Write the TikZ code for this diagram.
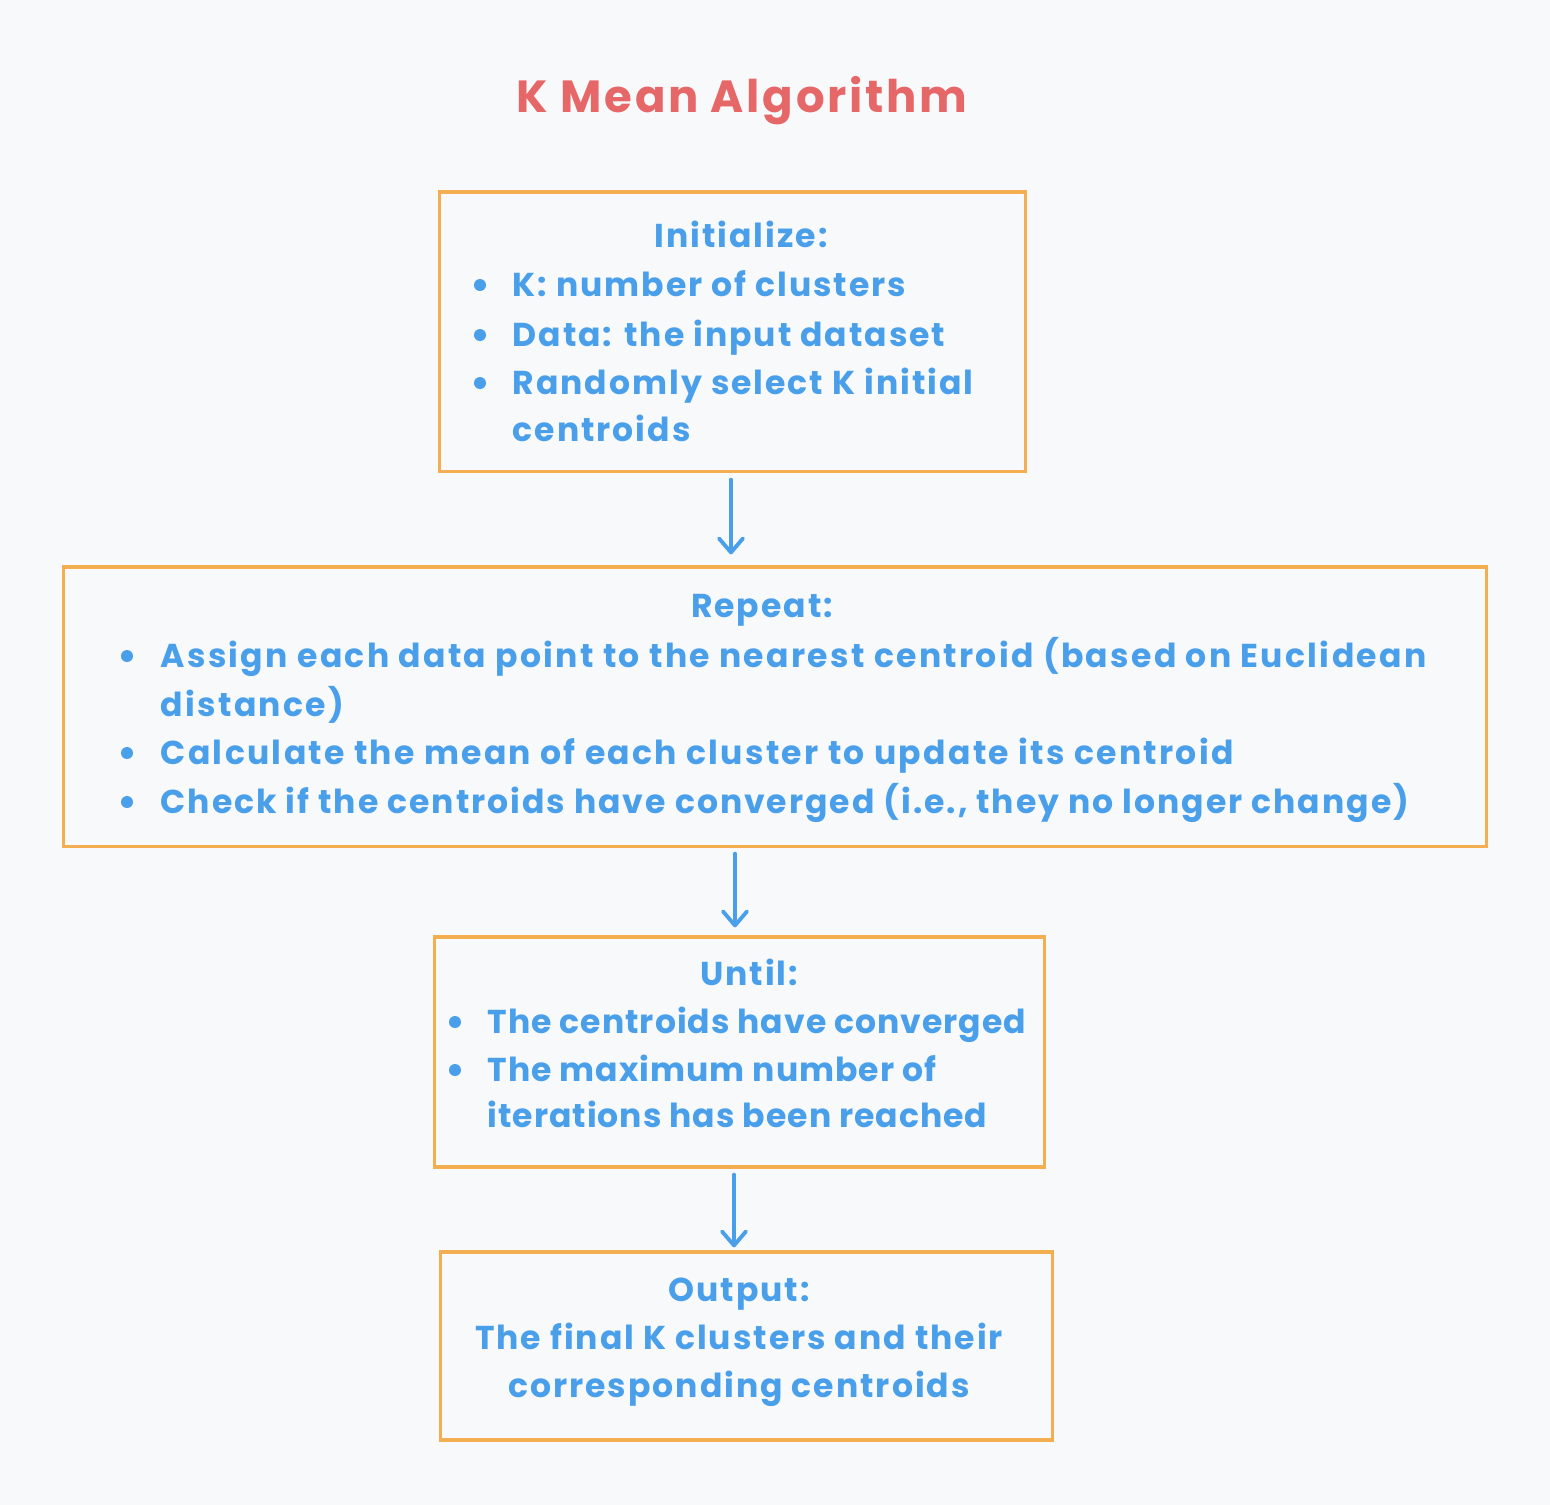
\documentclass[tikz,border=0pt]{standalone}
\usepackage{fontspec}
\setmainfont{Poppins}[LetterSpace=6]
\usetikzlibrary{arrows.meta,calc}
\definecolor{bg}{HTML}{F8F9FB}
\definecolor{boxc}{HTML}{F2AE50}
\definecolor{txt}{HTML}{4A9FEA}
\definecolor{ttl}{HTML}{E66767}
\tikzset{
  x=0.01cm,y=-0.01cm,
  box/.style={draw=boxc,line width=0.9pt,inner sep=0pt},
  tx/.style={text=txt,font=\fontsize{9.4}{10}\selectfont\bfseries,inner sep=0pt,anchor=base west},
  txnarrow/.style={tx,font=\fontsize{9.4}{10}\selectfont\bfseries\addfontfeatures{LetterSpace=3}},
  txwide/.style={tx,font=\fontsize{9.4}{10}\selectfont\bfseries\addfontfeatures{LetterSpace=7}},
  hd/.style={text=txt,font=\fontsize{9.4}{10}\selectfont\bfseries,inner sep=0pt,anchor=base},
  bul/.style={fill=txt,circle,inner sep=0pt,minimum size=0.12cm},
  arr/.style={draw=txt,line width=1.1pt,line cap=round,-{Straight Barb[length=0.14cm,width=0.24cm,line cap=round,line join=round]}},
}
\begin{document}
\begin{tikzpicture}
\fill[bg] (0,0) rectangle (1550,1505);
\useasboundingbox (0,0) rectangle (1550,1505);
\node[text=ttl,font=\fontsize{12.8}{14}\selectfont\bfseries,inner sep=0pt,anchor=base] (title) at (742,112) {K Mean Algorithm};
% boxes
\node[box,minimum width=5.85cm,minimum height=2.79cm] (init) at (732.5,331.5) {};
\node[box,minimum width=14.22cm,minimum height=2.79cm] (rep) at (775,706.5) {};
\node[box,minimum width=6.09cm,minimum height=2.30cm] (until) at (739.5,1052) {};
\node[box,minimum width=6.11cm,minimum height=1.88cm] (out) at (746.5,1346) {};
% init text
\node[hd] (i0) at (741,247) {Initialize:};
\node[bul] (ib1) at (480,285) {};
\node[tx] (i1) at (512,296) {K: number of clusters};
\node[bul] (ib2) at (480,335) {};
\node[tx] (i2) at (512,346) {Data: the input dataset};
\node[bul] (ib3) at (480,383) {};
\node[tx] (i3) at (512,394) {Randomly select K initial};
\node[tx] (i4) at (512,441) {centroids};
% repeat text
\node[hd] (r0) at (762,617) {Repeat:};
\node[bul] (rb1) at (127,656) {};
\node[txwide] (r1) at (160,667) {Assign each data point to the nearest centroid (based on Euclidean};
\node[txwide] (r2) at (160,716) {distance)};
\node[bul] (rb2) at (127,753) {};
\node[txwide] (r3) at (160,764) {Calculate the mean of each cluster to update its centroid};
\node[bul] (rb3) at (127,802) {};
\node[tx] (r4) at (160,813) {Check if the centroids have converged (i.e., they no longer change)};
% until text
\node[hd] (u0) at (749,985) {Until:};
\node[bul] (ub1) at (455,1022) {};
\node[txnarrow] (u1) at (487,1033) {The centroids have converged};
\node[bul] (ub2) at (455,1070) {};
\node[txnarrow] (u2) at (487,1081) {The maximum number of};
\node[txnarrow] (u3) at (487,1127) {iterations has been reached};
% output text
\node[hd] (o0) at (739,1301) {Output:};
\node[hd] (o1) at (739,1349) {The final K clusters and their};
\node[hd] (o2) at (739,1397) {corresponding centroids};
% arrows
\draw[arr] ($(init.south)+(-1.5,7)$) -- ($(init.south |- rep.north)+(-1.5,-11)$);
\draw[arr] ($(rep.south)+(-40,6)$) -- ($(rep.south |- until.north)+(-40,-8)$);
\draw[arr] ($(until.south)+(-5.5,6)$) -- ($(until.south |- out.north)+(-5.5,-3)$);
\end{tikzpicture}
\end{document}
